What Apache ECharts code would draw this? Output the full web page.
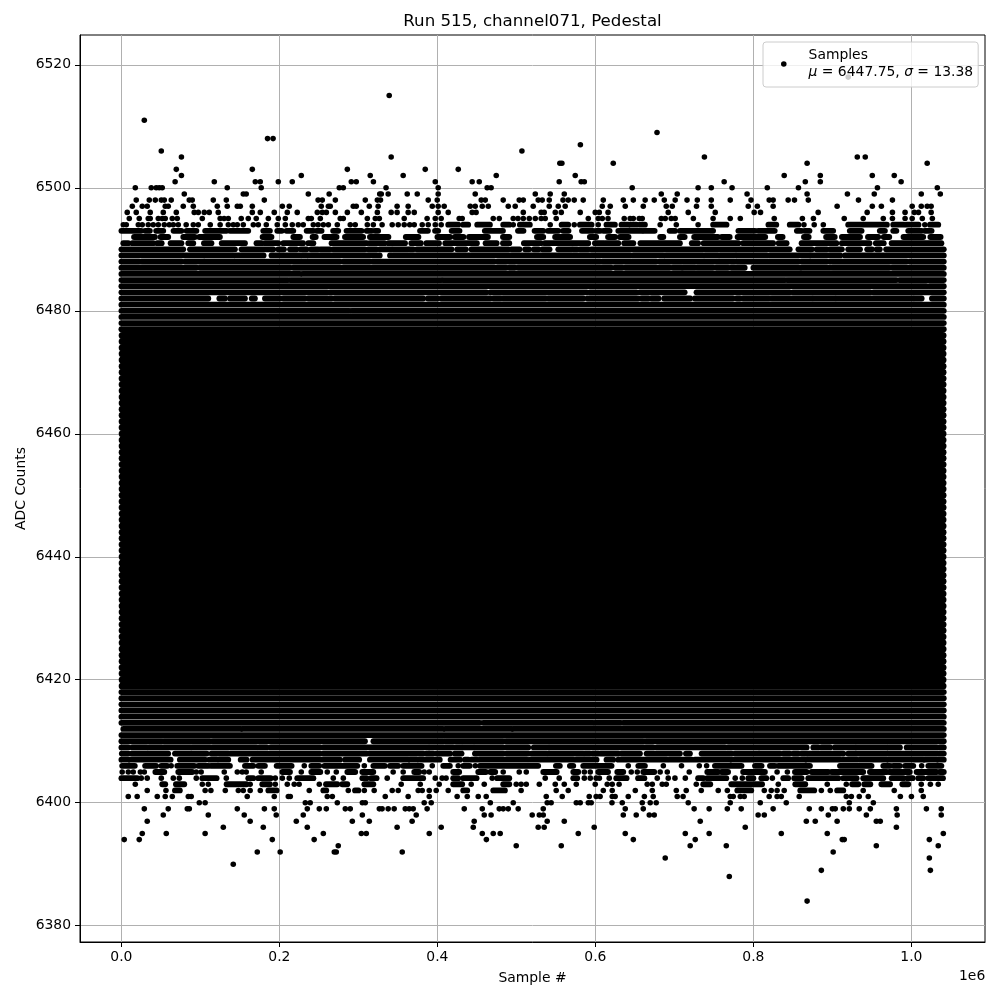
<!DOCTYPE html>
<html><head><meta charset="utf-8">
<style>html,body{margin:0;padding:0;background:#fff}#c{width:1000px;height:1000px}</style>
<script src="https://cdn.jsdelivr.net/npm/echarts@6/dist/echarts.min.js"></script>
</head><body><div id="c"></div>
<script>
// x values below are in thousands of samples
const xTicks=[0,200000,400000,600000,800000,1000000];
const yTicks=[6380,6400,6420,6440,6460,6480,6500,6520];
// isolated samples per ADC level
const p6518=[920];
const p6515=[339];
const p6511=[29];
const p6509=[678];
const p6508=[185,192];
const p6507=[581];
const p6506=[50.5,507];
const p6505=[76,341.5,738,931.5,941.6];
const p6504=[555,557.6,622.6,868,1020];
const p6503=[69.5,165.7,286,384.6,426.4];
const p6502=[76,227.7,315,356.7,474.5,574.5,839,884.7,950.5,978.3];
const p6501=[68,117.6,169.5,175.8,198.6,216.3,291,297.3,319,397.3,444,453,554.2,582,586,763,865.7,884.7,987];
const p6500=[17.6,37.8,44.1,47.9,51.7,134,177,275.8,280.9,335,401,463,468,646.6,730,746.7,773,817.6,857,957,1032.8];
const p6499=[79.6,154.3,158,236.6,263,327,329,337.7,361.8,374.5,401,447.9,523.9,542.8,560.6,683.4,703.6,792,868,919,953,1012.5,1036.6];
const p6498=[18.8,35.3,42.9,50.5,54.3,63.1,85.9,89.7,116.3,132.8,180.9,249,254.3,270.8,308.7,324,328,388.4,399.8,455.5,460.6,483.3,503.6,508.7,527.6,532.7,541.6,559,565.6,573.2,584.6,610,635.3,648,663,674.5,687.2,701,716,729,746.7,770.7,797,820,825,844,852,869.5,933,976];
const p6497=[13.8,26.4,32.7,55.5,59.3,78.3,91,121.4,134,146.7,150.5,165.7,203.7,212.5,253,262,264.4,293.5,297.3,313.8,325,349,363,393.5,401,408.6,441.6,447.9,456.8,464.4,489.7,498.5,521.3,541.6,553,561.8,608.7,618.8,637.8,660.6,689.7,697.3,728,746.7,793.5,805,825,906,950.5,962,1001,1012.5,1020,1025];
const p6496=[7.4,18.8,36.5,53,69.5,92.2,97.3,104.9,111.2,122.6,165.7,175.8,193.5,210,222.6,248,254.3,259.4,270.8,286,303.7,324,341.5,349,363,370.7,401,413.7,444,449,508.7,531.4,535.2,549.2,556.8,580.8,599.8,604.9,616,692.2,717.5,751.7,801,809,882,944,976,992,1003.7,1009,1025];
const p6495=[10,22.6,34,36.5,46.7,51.7,55.5,64.4,70.7,102.4,125,130,135.3,151.7,160.6,170.7,186,198.6,207.5,236.6,240.4,251.8,277,280.9,311.3,321.4,326.5,358,387,397.3,404.8,427.6,431.4,470.7,478.3,496,502,508.7,516.3,523.9,531.4,536.5,550.4,591,603.6,608.7,616,636.5,644,648,655.5,659.3,683.4,688.4,696,701,724,749,770.7,783.4,826.4,862,876,915,939,964.4,976,992,1001,1013.8,1026.5];
const p6494=[2.4,6.2,21.4,26.4,34,40.3,46.7,54.3,60.6,65.7,72,82,91,97.3,112.5,125,135.3,141.6,146.7,154.3,167,173.3,183.4,197.3,207.5,216.3,223.9,230.2,242.9,249,255.6,262,273.3,289.7,296,311.3,318.9,330,342.8,350.4,358,365,370.7,380.8,388.4,397.3,404.8,496,542.8,573.2,603.6,682,702.4,730,864,877,888.5,1017];
const r6494=[413.7,426.4,432.7,439,450.4,466.5,483.3,491,504.4,517,557.2,565.6,580.4,595.2,614,624.7,633,641.6,644.5,652,656.4,662.7,749,766,819,829,846,857,920,969,977,990,994,1009,1023.5,1034];
const r6493=[0,25,30,36,44,53,66,76,82.5,95,106,133,137.4,160.6,179.6,188,197.3,203,209,217.6,234.5,243,247,253.4,268,274.5,285,304,310.4,317,321,325,333,333,361,361,372,372,378,388,397,401,418,428,436,436,460,483,490,490,502,509,523,534,540,553,559,566,576,576,583,597,601,606,610,618,629,659,661,675,694,701,707,749,770,770,781,802,806,827,846,846,855,861,865,871,878,878,888.5,901,922,937,950,950,960,966.5,977,981,996,1013,1017,1025.6,1032,1032];
const r6492=[16,42.5,49.6,59.3,78.3,93,98.6,124.7,141.6,141.6,154.3,154.3,164.8,164.8,178.7,190,200,200,210,210,217.6,226,242,246,257,272.4,283,306,314.6,338,345,345,360,376,381,381,400,416,422,433,440,464,483,491,516,516,526,534,549,568,574,574,585.5,585.5,593,601,616,625,631,642,674,674,682,686,697,697,707,713,725,755,760,770,780,815,831,837,855,855,864,870,877,877,892,903,912,935,941,941,945,958,965,972,990,1015,1024,1037];
const r6491=[2.4,8.7,14,40.3,45.4,51,57,57,62.3,76,84.7,91,104.5,114,127,156.4,171,177.5,181.7,198.6,205,230,236.6,243,249,249,257.7,257.7,266,310.4,314.6,333,338,359,367,379,386,402,410,450,454,454,461,475,483,491,497,497,504.5,504.5,509.5,531,536,591,599.4,611,614,629,636.5,648,657,707,722,730,737,781,787,825,832,842,853,853,861,905,912,947,955,965,975,1038];
const r6490=[0,78.3,86.8,143.7,152,192.3,198.6,205.8,213.4,221.8,227,234.5,240,249,252,264,268,308.3,312.5,323,327,342,344,363,365,369.4,374,418,425,436,443,490,494,504,511,516,522,528,533,542,553,570,572,577,580.4,591,595,846,857,874,880,893,897,912,920,935,944,950,956,960,968,1041];
const r6489=[0,103.6,106,141.6,144.6,180,190,226,229,234.5,237,327,340,644,648,686,689,736,739,755,758,777,779,817,821,871,873,910,916,1041];
const r6488=[0,22.6,25.6,76,80.4,276.6,281,314.6,318,472,476,606,609,677,681,776,779,857,861,893,897,994,998,1041];
const r6487=[0,95,99.4,213.4,217.6,487,491,498,502,620,625,634,638,694,698,709,711,726,729,749,753,768,772,789,800,859,861,897,900,972,976,1041];
const r6486=[0,226,229.4,1041];
const r6485=[0,211,214,405,407.4,840,843,981,985,1041];
const r6484=[0,1019,1023,1041];
const r6483=[0,260.6,264,462,467,589,593,652,656,713,728,846,850,948,952,1041];
const r6482=[0,110,124,131,137.4,156.4,165,169,181.7,200.7,205,232.3,236.6,266,270,382,388,400,405,467,471,480,483,537,540.3,584.6,590,654,658.5,667,671,680,687,720,726,774,779,783,787,820,823,874,876,903,905,1002,1004,1013,1019,1019,1026,1041];
const r6481=[0,1041];
const r6480=[0,288.5,291.4,1041];
const r6479=[0,1041];
const r6478=[0,1041];
const r6477=[0,1041];
// lower band rows, from the solid block downwards
const r6418=[0,1041];const r6417=[0,1041];const r6416=[0,1041];const r6415=[0,1041];const r6414=[0,1041];
const r6413=[0,453.8,458,597,599.4,632,635.3,1041];
const r6412=[2.4,151,153.4,407,410,493.9,496,1041];
const r6411=[0,1041];
const r6410=[0,51,54,112,115.5,308.3,319,407.4,410.3,483.3,486.7,660.6,664,1041];
const r6409=[0,8.7,13.8,32,35,87,89.7,171,174.5,184,189,251.3,255.6,388.4,390.5,420,423.4,430.6,432.7,445.4,447.5,483.3,486.7,515,522,540.3,542.4,673,678,764,768,806,808.3,867.4,875.8,882,886.4,897,903,928.6,930.7,968.6,970.8,985.5,994,1032,1036,1041];
const r6408=[0.5,8.7,13,59.3,67.8,108,114,135.3,138,251.3,255.6,310.4,313.8,382,386,394.7,399,416,422,430.6,447.5,483.3,487.5,515,519,538.2,540.3,584.6,586.7,593,596.4,603.6,606.6,629,633,656.4,664.8,707,714.6,719.7,734.4,772.4,776.6,833.6,837.8,846,850.5,856.8,861,867.4,869.5,913.8,920,1041];
const r6407=[0,8.7,10.8,62.3,74,105.8,111.2,120.5,124,135.3,141.6,141.6,151,158.5,166,276.6,283,301,307.5,307.5,314.6,363,365.2,373.6,377,403,416.7,428.5,434.8,439,443.3,449.6,453.8,513,517,572,576,601.5,614,622.6,629,690,694,721.8,726,770.3,772.4,865.3,867.4,909.6,913.8,930.7,935,968.6,970.8,1015,1017,1032,1034,1041];
const r6406=[1,17,30,44,50.5,58,70.7,92.3,97.3,110,113.3,137.4,156.4,167,173.3,181.7,196.5,215.5,240.4,250.5,257,298.6,318.9,333.5,339.9,350.4,356.7,380,407.4,415.8,432.7,441,453.8,527.6,550,555,567.7,572,584.6,620.5,654.3,662.7,751.3,785,802,810.4,821,827.3,831.5,871.6,909.6,949.6,964.4,973,977,985.5,991.9,1002.4,1021.4,1038];
const p6406=[63,231.5,307.5,393.5,426.4,448,641.6,686,709,731.5,740.8,1013];
const r6405=[43,54.3,72,89.7,203.7,213.4,240.4,251.8,286,296,305,318.9,370.7,377,420,427.6,451.7,461.4,467,473.2,534,551,572,578.3,603.6,616,627.7,635.3,660.6,674.5,741.6,755.5,759.8,768,787,814.6,852.6,867.4,873.7,894.8,899,939,947.5,968.6,972,998,1006.6,1032,1036,1041];
const p6405=[1,8.7,15,24,29,94.8,101,130.2,146.7,153,158,177,227.7,260.6,272,344,356.7,383.3,389.7,483.3,503.6,512.5,586,593.5,645.4,653,682,691,718.8,830,843];
const r6404=[0,20,102.4,120.5,160.6,167,173.3,189,222.6,243,305,310.4,316,323,356.7,382,420,426.4,432.7,449.6,475.7,491,572,577,626.4,639.5,654,662,730,736.5,741.6,765.7,793.5,800,810,816.3,837.8,844,851.7,861,869.5,907.5,913.8,930.7,939,964.4,975,990,995,1001.6,1008.7,1015,1021.4,1040];
const p6404=[25.1,32.7,50.5,65.7,73.3,94.8,132.8,194.8,203.7,212.5,268.2,280.9,336.5,397.3,406,411,469.4,536.5,554.2,586,593.5,601,605,617.5,678.3,692.2,700.7,713.8,777,786,824];
const r6403=[51.7,55.5,69,79.6,133.2,158.5,178.3,188,259,273.3,279.6,286,307.5,318.9,420,431.4,483.3,491,736.5,745.4,772,811,853,865.7,925,932.8,940.4,948,962,973,988.5,996];
const p6403=[17.6,102.4,110,163,194.8,210,218.8,225,250.5,354.2,378.3,402.3,442.8,459.3,499.8,506,512.5,529,549.2,560.6,575.8,599.8,615,621.3,630,665.6,672,684.6,689.7,727.7,831.5,893.5,917.6,1012.5,1024,1034];
const r6402=[67.8,74,186,196.5,255.6,259.4,295.7,300,432.7,437.8,470.7,485.5,779.6,797.3,859.3,877,906,913.8];
const p6402=[32.7,56.4,106,113.3,131.5,148,154.3,163,175.8,237.8,287.2,307.5,320,342.8,350.4,375.7,380.8,389.7,398.5,413.7,506,550.4,565.6,610,621.3,650.5,672,702.4,715,734,755.5,767,813.8,822.6,830,839,886,897.3,939,978.3,1012.5];
const p6401=[8.7,20,45.4,55.5,64.4,84.7,88.4,159.3,193.5,211.3,213.8,260.6,267,334,363,389.7,425,437.8,451.7,461.8,537.8,558,592.2,601,606,621.3,625,641.6,662,673.2,703.6,711,770.7,774.5,783.4,788.4,820,830,835.3,858,917.6,924,934,945.4,986,1000,1015];
const p6400=[98.6,106,232.8,239,273.3,305,308.7,383.3,392.2,467,496,539,544,575.8,580.8,591,594.7,621,634,659.3,669.4,677,717.5,770.7,808.7,841.6,921.4,951.8];
const p6399=[29,59.3,83.4,86,146.7,181,193.5,235.3,250.5,259.4,283.4,289.7,326.5,330,337.7,345.3,359.3,364.3,369.4,387,434,456.8,478.3,483.3,489.7,502.3,534,637.8,660.6,725,744,767,784.6,825,870.7,886,900,903.6,913.8,921.4,934,948,981,1019,1037.8];
const p6398=[53,110,155.5,196,230.2,305,373.2,459.3,468,520,529,534,635.3,651.7,668.2,674.5,806,813.8,894.8,943,982,1037.8];
const p6397=[32.7,163,221.4,292.3,313.8,368,446.6,539,560.6,732.7,867,878.3,906,955.6,960.6];
const p6396=[129,179.6,235.3,349,404.8,445.4,527.6,535.2,598.5,789.7,981];
const p6395=[26.4,56.8,106,255.6,303.7,310,389.7,456.8,470.7,479.5,578.3,637.8,713.8,744,835.3,893.5,1040.4];
const p6394=[3.6,22.6,191,244,462,648,726.4,912.5,915,1022.7];
const p6393=[274.5,499.8,556.8,720,765.7,955.6,1034];
const p6392=[172,201,269.5,272,355.5,901];
const p6391=[688.4,1022.7];
const p6390=[141.6];
const p6389=[886,1024];
const p6388=[769.5];
const p6384=[868];
// levels where the samples form an unbroken black block
const coreLevels=[6419,6420,6421,6422,6423,6424,6425,6426,6427,6428,6429,6430,6431,6432,6433,6434,6435,6436,6437,6438,6439,6440,6441,6442,6443,6444,6445,6446,6447,6448,6449,6450,6451,6452,6453,6454,6455,6456,6457,6458,6459,6460,6461,6462,6463,6464,6465,6466,6467,6468,6469,6470,6471,6472,6473,6474,6475,6476];
const coreSpan=[1,1040];

const pointRows=[[6518,p6518],[6515,p6515],[6511,p6511],[6509,p6509],[6508,p6508],[6507,p6507],[6506,p6506],[6505,p6505],[6504,p6504],[6503,p6503],[6502,p6502],[6501,p6501],[6500,p6500],[6499,p6499],[6498,p6498],[6497,p6497],[6496,p6496],[6495,p6495],[6494,p6494],[6406,p6406],[6405,p6405],[6404,p6404],[6403,p6403],[6402,p6402],[6401,p6401],[6400,p6400],[6399,p6399],[6398,p6398],[6397,p6397],[6396,p6396],[6395,p6395],[6394,p6394],[6393,p6393],[6392,p6392],[6391,p6391],[6390,p6390],[6389,p6389],[6388,p6388],[6384,p6384]];
const runRows=[[6494,r6494],[6493,r6493],[6492,r6492],[6491,r6491],[6490,r6490],[6489,r6489],[6488,r6488],[6487,r6487],[6486,r6486],[6485,r6485],[6484,r6484],[6483,r6483],[6482,r6482],[6481,r6481],[6480,r6480],[6479,r6479],[6478,r6478],[6477,r6477],[6418,r6418],[6417,r6417],[6416,r6416],[6415,r6415],[6414,r6414],[6413,r6413],[6412,r6412],[6411,r6411],[6410,r6410],[6409,r6409],[6408,r6408],[6407,r6407],[6406,r6406],[6405,r6405],[6404,r6404],[6403,r6403],[6402,r6402]];

const points=[];
pointRows.forEach(([l,a])=>a.forEach(x=>points.push([x*1000,l])));
const runs=[];
runRows.forEach(([l,a])=>{for(let i=0;i<a.length;i+=2)runs.push([a[i]*1000,a[i+1]*1000,l]);});
const core=coreLevels.map(l=>[coreSpan[0]*1000,coreSpan[1]*1000,l]);

function runRenderer(w){
  return function(params,api){
    const a=api.coord([api.value(0),api.value(2)]),b=api.coord([api.value(1),api.value(2)]);
    return {type:'line',shape:{x1:a[0],y1:a[1],x2:b[0],y2:b[1]},
      style:{stroke:'#000',lineWidth:w,lineCap:'round',fill:null}};
  };
}
const F='"DejaVu Sans"';
const chart=echarts.init(document.getElementById('c'),null,{renderer:'canvas'});
chart.setOption({
  animation:false,
  title:{text:'Run 515, channel071, Pedestal',left:527.5,top:8,textAlign:'center',
    textStyle:{fontFamily:F,fontSize:16.67,fontWeight:'normal',color:'#000'}},
  grid:{show:true,left:80,right:15,top:35,bottom:58,containLabel:false,borderColor:'#000',borderWidth:1,backgroundColor:'transparent'},
  legend:{show:true,data:['Samples'],left:763,top:42,orient:'vertical',padding:[5,5,6,18],
    backgroundColor:'rgba(255,255,255,0.8)',borderColor:'#ccc',borderWidth:1,borderRadius:3,
    itemWidth:5.56,itemHeight:5.56,icon:'circle',
    itemStyle:{color:'#000',opacity:1},
    formatter:()=>'Samples\n{i|μ} = 6447.75, {i|σ} = 13.38',
    textStyle:{fontFamily:F,fontSize:13.9,color:'#000',lineHeight:17,padding:[0,0,0,17],
      rich:{i:{fontFamily:F,fontStyle:'italic',fontSize:13.9,color:'#000'}}}},
  xAxis:{type:'value',min:-52400,max:1093170,name:'Sample #',nameLocation:'middle',nameGap:29,nameMoveOverlap:false,
    nameTextStyle:{fontFamily:F,fontSize:13.9,color:'#000'},
    axisLine:{onZero:false,lineStyle:{color:'#000',width:1}},
    axisTick:{length:5,customValues:xTicks,lineStyle:{color:'#000',width:1}},
    axisLabel:{customValues:xTicks,margin:8,fontFamily:F,fontSize:13.9,color:'#000',formatter:v=>(v/1e6).toFixed(1)},
    splitLine:{show:true,lineStyle:{color:'#b0b0b0',width:1}}},
  yAxis:{type:'value',min:6377.35,max:6524.85,name:'ADC Counts',nameLocation:'middle',nameGap:52,nameMoveOverlap:false,
    nameTextStyle:{fontFamily:F,fontSize:13.9,color:'#000'},
    axisLine:{onZero:false,lineStyle:{color:'#000',width:1}},
    axisTick:{length:5,customValues:yTicks,lineStyle:{color:'#000',width:1}},
    axisLabel:{customValues:yTicks,margin:9,padding:[2,0,0,0],fontFamily:F,fontSize:13.9,color:'#000',formatter:v=>String(v)},
    splitLine:{show:true,lineStyle:{color:'#b0b0b0',width:1}}},
  graphic:[{type:'text',left:959,top:969,z:10,style:{text:'1e6',fontFamily:F,fontSize:13.9,fill:'#000'}}],
  series:[
    {name:'Samples',type:'scatter',data:points,symbol:'circle',symbolSize:5.56,itemStyle:{color:'#000',opacity:1},z:3},
    {name:'Sample runs',type:'custom',data:runs,renderItem:runRenderer(5.8),clip:true,z:3,encode:{x:[0,1],y:2},silent:true},
    {name:'Sample block',type:'custom',data:core,renderItem:runRenderer(7),clip:true,z:3,encode:{x:[0,1],y:2},silent:true}
  ]
});
</script></body></html>
